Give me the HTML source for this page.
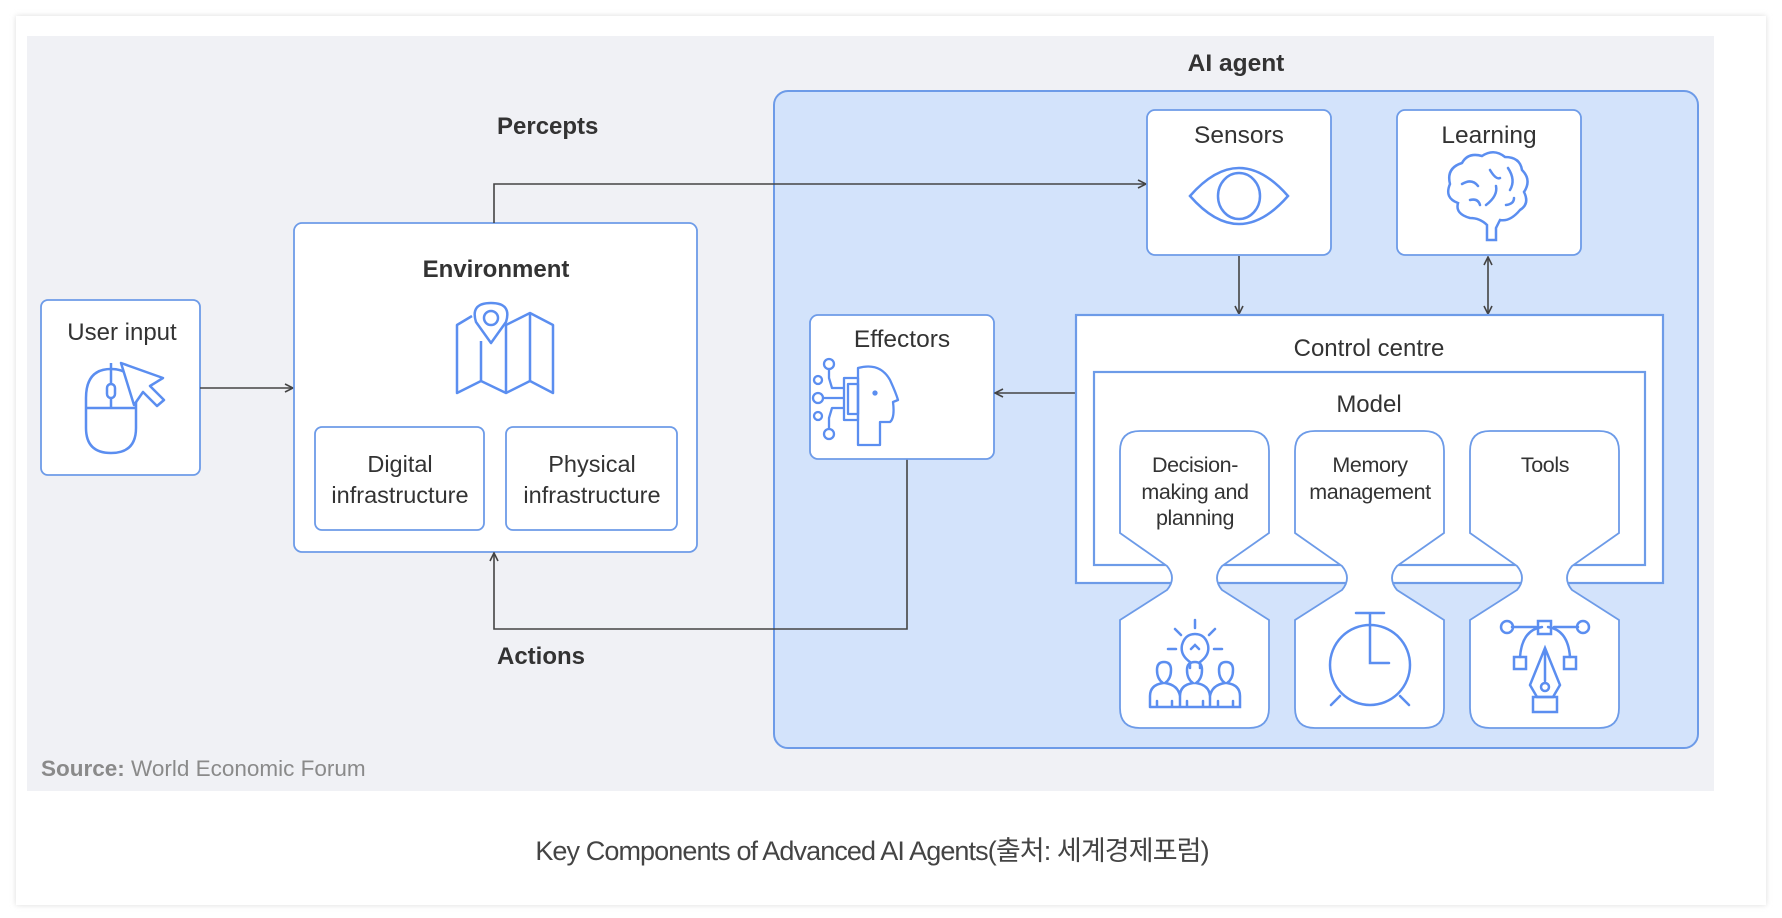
<!DOCTYPE html>
<html><head><meta charset="utf-8"><style>
html,body{margin:0;padding:0;background:#fff;}
svg{display:block;}
</style></head><body>
<svg width="1782" height="918" viewBox="0 0 1782 918" xmlns="http://www.w3.org/2000/svg" font-family="'Liberation Sans', Arial, sans-serif">
<defs>
<filter id="sh" x="-5%" y="-5%" width="110%" height="110%"><feGaussianBlur stdDeviation="3"/></filter>
<marker id="ar" viewBox="0 0 10 10" refX="9" refY="5" markerWidth="10" markerHeight="10" orient="auto-start-reverse" markerUnits="userSpaceOnUse"><path d="M1,1 L9,5 L1,9" fill="none" stroke="#444" stroke-width="1.6"/></marker>
</defs>
<rect x="0" y="0" width="1782" height="918" fill="#fff"/>
<rect x="16" y="16" width="1750" height="889" fill="#ddd" filter="url(#sh)"/>
<rect x="16" y="16" width="1750" height="889" fill="#fff"/>
<rect x="27" y="36" width="1687" height="755" fill="#f0f1f5"/>

<text x="872" y="860" text-anchor="middle" font-size="27" fill="#444" font-family="'Liberation Sans','Noto Sans CJK KR',sans-serif" letter-spacing="-0.9">Key Components of Advanced AI Agents(출처: 세계경제포럼)</text>
<text x="41" y="776" font-size="22.5" fill="#8a8a8a"><tspan font-weight="bold">Source:</tspan> World Economic Forum</text>

<!-- AI agent container -->
<rect x="774" y="91" width="924" height="657" rx="14" fill="#d3e3fb" stroke="#6d9be8" stroke-width="2"/>
<text x="1236" y="71" text-anchor="middle" font-size="24.5" font-weight="bold" fill="#333">AI agent</text>

<!-- User input -->
<rect x="41" y="300" width="159" height="175" rx="7" fill="#fff" stroke="#6d9be8" stroke-width="1.8"/>
<text x="122" y="340" text-anchor="middle" font-size="24" fill="#333">User input</text>
<g fill="none" stroke="#5b8ef0" stroke-width="2.5" stroke-linejoin="round">
<path d="M86,398 Q86,369 111,369 Q136,369 136,398 V428 Q136,453 111,453 Q86,453 86,428 Z"/>
<line x1="86" y1="408" x2="136" y2="408"/>
<line x1="111" y1="363" x2="111" y2="408"/>
<rect x="107" y="384" width="8" height="14" rx="4" fill="#fff"/>
<path d="M121,363 L163,378 L150,386 L164,400 L157,406 L143,392 L134,405 Z" fill="#fff"/>
</g>

<line x1="200" y1="388" x2="293" y2="388" stroke="#444" stroke-width="1.6" marker-end="url(#ar)"/>

<!-- Environment -->
<rect x="294" y="223" width="403" height="329" rx="8" fill="#fff" stroke="#6d9be8" stroke-width="1.8"/>
<text x="496" y="277" text-anchor="middle" font-size="24" font-weight="bold" fill="#333">Environment</text>
<g fill="none" stroke="#5b8ef0" stroke-width="2.5" stroke-linejoin="round">
<path d="M472,316 L457,325 V393 L481,381 L506,393 L530,381 L553,393 V325 L530,313 L506,325 V393 M530,313 V381 M481,341 V381"/>
<path d="M491,343 L476,322 Q470,303 491,303 Q512,303 506,322 Z" fill="#fff"/>
<circle cx="491" cy="318" r="7"/>
</g>
<rect x="315" y="427" width="169" height="103" rx="7" fill="#fff" stroke="#6d9be8" stroke-width="1.8"/>
<text x="400" y="472" text-anchor="middle" font-size="23.5" fill="#333">Digital</text>
<text x="400" y="503" text-anchor="middle" font-size="23.5" fill="#333">infrastructure</text>
<rect x="506" y="427" width="171" height="103" rx="7" fill="#fff" stroke="#6d9be8" stroke-width="1.8"/>
<text x="592" y="472" text-anchor="middle" font-size="23.5" fill="#333">Physical</text>
<text x="592" y="503" text-anchor="middle" font-size="23.5" fill="#333">infrastructure</text>

<!-- Percepts -->
<text x="497" y="134" font-size="24" font-weight="bold" fill="#333">Percepts</text>
<polyline points="494,223 494,184 1146,184" fill="none" stroke="#444" stroke-width="1.6" marker-end="url(#ar)"/>
<!-- Actions -->
<text x="497" y="664" font-size="24" font-weight="bold" fill="#333">Actions</text>
<polyline points="907,459 907,629 494,629 494,553" fill="none" stroke="#444" stroke-width="1.6" marker-end="url(#ar)"/>

<!-- Sensors -->
<rect x="1147" y="110" width="184" height="145" rx="8" fill="#fff" stroke="#6d9be8" stroke-width="1.8"/>
<text x="1239" y="143" text-anchor="middle" font-size="24.5" fill="#333">Sensors</text>
<g fill="none" stroke="#5b8ef0" stroke-width="2.5">
<path d="M1190,196 Q1239,140 1288,196 Q1239,252 1190,196 Z"/>
<ellipse cx="1239" cy="196" rx="21" ry="23"/>
</g>
<!-- Learning -->
<rect x="1397" y="110" width="184" height="145" rx="8" fill="#fff" stroke="#6d9be8" stroke-width="1.8"/>
<text x="1489" y="143" text-anchor="middle" font-size="24.5" fill="#333">Learning</text>
<g fill="none" stroke="#5b8ef0" stroke-width="2.5" stroke-linecap="round">
<path d="M1487,240 V225 Q1480,218 1470,218 Q1455,214 1458,203 Q1444,198 1450,184 Q1446,168 1462,163 Q1468,152 1482,156 Q1494,148 1505,157 Q1520,157 1522,170 Q1532,180 1524,192 Q1530,204 1520,210 Q1510,222 1500,220 L1496,228 V240 Z"/>
<path d="M1462,184 Q1472,178 1478,186 M1490,170 Q1496,180 1500,178 M1486,205 Q1498,196 1496,186 M1508,168 Q1516,180 1510,190 M1470,200 Q1478,198 1480,205 M1506,205 Q1514,204 1514,198"/>
</g>
<line x1="1239" y1="256" x2="1239" y2="314" stroke="#444" stroke-width="1.6" marker-end="url(#ar)"/>
<line x1="1488" y1="257" x2="1488" y2="314" stroke="#444" stroke-width="1.6" marker-start="url(#ar)" marker-end="url(#ar)"/>

<!-- Effectors -->
<rect x="810" y="315" width="184" height="144" rx="8" fill="#fff" stroke="#6d9be8" stroke-width="1.8"/>
<text x="902" y="347" text-anchor="middle" font-size="24.5" fill="#333">Effectors</text>
<g fill="none" stroke="#5b8ef0" stroke-width="2.3" stroke-linejoin="round">
<path d="M858,368 Q880,362 890,380 Q896,393 898,400 L893,402 Q895,418 890,422 L880,422 V445 H858 Z"/>
<circle cx="875" cy="393" r="1.5" fill="#5b8ef0"/>
<rect x="848" y="384" width="10" height="30"/>
<rect x="844" y="378" width="14" height="42"/>
<path d="M844,388 H832 L829,378 V368 M844,398 H822 M844,408 H832 L829,418 V430"/>
<circle cx="829" cy="364" r="5" fill="#fff"/><circle cx="818" cy="398" r="5" fill="#fff"/><circle cx="829" cy="434" r="5" fill="#fff"/>
<circle cx="818" cy="380" r="4" fill="#fff"/><circle cx="818" cy="416" r="4" fill="#fff"/>
</g>
<line x1="1076" y1="393" x2="995" y2="393" stroke="#444" stroke-width="1.6" marker-end="url(#ar)"/>

<!-- Control centre -->
<rect x="1076" y="315" width="587" height="268" fill="#fff" stroke="#6d9be8" stroke-width="2.2"/>
<text x="1369" y="356" text-anchor="middle" font-size="24" fill="#333">Control centre</text>
<rect x="1094" y="372" width="551" height="193" fill="#fff" stroke="#6d9be8" stroke-width="2.2"/>
<text x="1369" y="412" text-anchor="middle" font-size="24" fill="#333">Model</text>

<!-- Pills -->
<g fill="#fff" stroke="#6d9be8" stroke-width="1.8">
<path d="M1140,431 H1249 Q1269,431 1269,451 V533 L1222,566 Q1212,578 1222,590 L1269,620 V708 Q1269,728 1249,728 H1140 Q1120,728 1120,708 V620 L1167,590 Q1177,578 1167,566 L1120,533 V451 Q1120,431 1140,431 Z"/>
<path d="M1315,431 H1424 Q1444,431 1444,451 V533 L1397,566 Q1387,578 1397,590 L1444,620 V708 Q1444,728 1424,728 H1315 Q1295,728 1295,708 V620 L1342,590 Q1352,578 1342,566 L1295,533 V451 Q1295,431 1315,431 Z"/>
<path d="M1490,431 H1599 Q1619,431 1619,451 V533 L1572,566 Q1562,578 1572,590 L1619,620 V708 Q1619,728 1599,728 H1490 Q1470,728 1470,708 V620 L1517,590 Q1527,578 1517,566 L1470,533 V451 Q1470,431 1490,431 Z"/>
</g>
<g font-size="21.5" fill="#333" text-anchor="middle" letter-spacing="-0.4">
<text x="1195" y="472">Decision-</text>
<text x="1195" y="499">making and</text>
<text x="1195" y="525">planning</text>
<text x="1370" y="472">Memory</text>
<text x="1370" y="499">management</text>
<text x="1545" y="472">Tools</text>
</g>
<!-- pill icons -->
<g fill="none" stroke="#5b8ef0" stroke-width="2.5" stroke-linecap="round">
<path d="M1195,620 V628 M1175,629 L1181,635 M1215,629 L1209,635 M1168,649 H1176 M1214,649 H1222"/>
<path d="M1190,662 Q1180,655 1182,645 Q1185,634 1195,634 Q1205,634 1208,645 Q1210,655 1200,662 V668 M1190,662 V668 M1191,649 L1195,645 L1199,649"/>
<path d="M1150,707 V696 Q1150,685 1163,683 Q1157,679 1157,670 Q1157,662 1164,662 Q1171,662 1171,670 Q1171,679 1165,683 Q1178,685 1180,696 M1180,707 V696 Q1180,685 1193,683 Q1187,679 1187,670 Q1187,662 1195,662 Q1202,662 1202,670 Q1202,679 1196,683 Q1209,685 1210,696 V707 M1210,696 Q1212,685 1225,683 Q1219,679 1219,670 Q1219,662 1226,662 Q1233,662 1233,670 Q1233,679 1227,683 Q1240,685 1240,696 V707 H1150 M1157,701 V707 M1172,701 V707 M1187,701 V707 M1203,701 V707 M1218,701 V707 M1233,701 V707"/>
<circle cx="1370" cy="665" r="40"/>
<path d="M1356,613 H1384 M1370,613 V625 M1370,625 V663 H1389 M1340,696 L1331,705 M1400,696 L1409,705"/>
<path d="M1512,627 H1536 M1554,627 H1578 M1520,657 Q1522,630 1542,627 M1570,657 Q1568,630 1548,627"/>
<circle cx="1507" cy="627" r="6"/><circle cx="1583" cy="627" r="6"/>
<rect x="1538" y="621" width="13" height="13"/>
<rect x="1514" y="657" width="12" height="12"/><rect x="1564" y="657" width="12" height="12"/>
<path d="M1545,648 L1530,685 L1537,697 H1553 L1560,685 Z M1545,648 V681"/>
<circle cx="1545" cy="687" r="4"/>
<rect x="1533" y="697" width="24" height="15"/>
</g>
</svg>
</body></html>
